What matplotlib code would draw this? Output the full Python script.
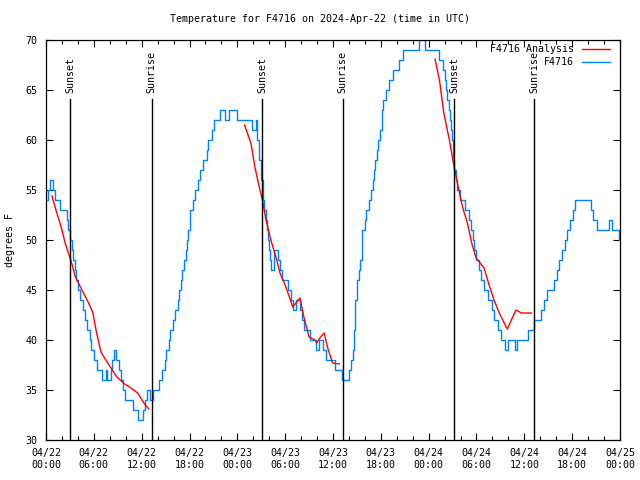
import matplotlib
matplotlib.use("Agg")
import matplotlib.pyplot as plt
from matplotlib.lines import Line2D
import matplotlib.transforms as mtransforms

# hours since 2024-04-22 00:00 UTC
obs_hours = [0.0, 0.3, 0.5, 0.85, 1.1, 1.8, 2.6, 2.8, 3.0, 3.2, 3.4, 3.6, 3.8, 4.0, 4.3, 4.6, 4.85, 5.2,
             5.55, 5.7, 6.0, 6.4, 7.0, 7.5, 7.6, 8.2, 8.3, 8.5, 8.75, 9.1, 9.4, 9.6, 9.9, 10.9, 11.5,
             12.15, 12.4, 12.7, 13.1, 13.4, 14.2, 14.5, 14.9, 15.1, 15.4, 15.6, 15.9, 16.2, 16.5, 16.7,
             16.9, 17.1, 17.3, 17.5, 17.7, 17.8, 18.0, 18.1, 18.5, 18.7, 19.1, 19.3, 19.7, 20.2, 20.3,
             20.8, 21.1, 21.8, 22.4, 22.9, 23.9, 25.8, 26.3, 26.5, 26.75, 26.95, 27.2, 27.4, 27.6, 27.75,
             27.85, 28.0, 28.1, 28.2, 28.55, 29.1, 29.3, 29.55, 30.3, 30.7, 30.95, 31.35, 31.9, 32.1, 32.4,
             33.15, 33.9, 34.2, 34.75, 35.1, 36.2, 37.1, 38.0, 38.25, 38.5, 38.6, 38.7, 38.8, 39.0, 39.2,
             39.4, 39.6, 39.7, 40.0, 40.2, 40.5, 40.8, 41.0, 41.1, 41.3, 41.5, 41.7, 41.9, 42.1, 42.2,
             42.3, 42.65, 43.05, 43.55, 44.3, 44.75, 46.8, 47.6, 49.3, 49.8, 50.05, 50.2, 50.35, 50.5,
             50.65, 50.8, 50.9, 51.05, 51.1, 51.2, 51.4, 51.6, 51.9, 52.5, 53.1, 53.3, 53.5, 53.7, 53.9,
             54.3, 54.6, 54.9, 55.4, 55.95, 56.25, 56.65, 57.1, 57.6, 57.9, 58.8, 59.05, 60.4, 61.25,
             62.1, 62.5, 62.9, 63.7, 64.1, 64.35, 64.7, 65.1, 65.3, 65.7, 66.1, 66.35, 68.4, 68.65,
             69.15, 70.6, 70.95, 71.9]
obs_temp = [54, 55, 56, 55, 54, 53, 52, 51, 50, 49, 48, 47, 46, 45, 44, 43, 42, 41,
            40, 39, 38, 37, 36, 37, 36, 37, 38, 39, 38, 37, 36, 35, 34, 33, 32,
            33, 34, 35, 34, 35, 36, 37, 38, 39, 40, 41, 42, 43, 44, 45,
            46, 47, 48, 49, 50, 51, 52, 53, 54, 55, 56, 57, 58, 59, 60,
            61, 62, 63, 62, 63, 62, 61, 62, 60, 58, 56, 54, 53, 52, 51,
            50, 49, 48, 47, 49, 48, 47, 46, 45, 44, 43, 44, 43, 42, 41,
            40, 39, 40, 39, 38, 37, 36, 37, 38, 39, 41, 42, 44, 46, 47,
            48, 50, 51, 52, 53, 54, 55, 56, 57, 58, 59, 60, 61, 62, 63,
            64, 65, 66, 67, 68, 69, 70, 69, 68, 67, 66, 65, 64, 63,
            62, 61, 60, 59, 58, 57, 56, 55, 54, 53, 52, 51, 50, 49, 48,
            47, 46, 45, 44, 43, 42, 41, 40, 39, 40, 39, 40, 41, 42,
            43, 44, 45, 46, 47, 48, 49, 50, 51, 52, 53, 54, 53, 52,
            51, 52, 51, 50]

ana1_hours = [0.75, 1.25, 1.9, 2.4, 3.1, 3.7, 4.2, 4.7, 5.35, 5.85, 6.35, 6.9, 7.5, 8.15, 8.9, 9.7,
              10.65, 11.5, 12.45, 12.9]
ana1_temp = [54.4, 53.0, 51.3, 49.7, 48.0, 46.3, 45.5, 44.7, 43.7, 42.8, 40.7, 38.8, 38.0, 37.2, 36.3,
             35.7, 35.2, 34.7, 33.5, 33.1]
ana2_hours = [24.9, 25.7, 26.2, 26.75, 27.15, 27.6, 28.2, 28.85, 29.35, 30.1, 30.95, 31.45, 31.85,
              32.35, 33.0, 33.75, 33.95, 34.35, 34.9, 35.3, 35.95, 36.8]
ana2_temp = [61.5, 59.7, 57.3, 55.3, 54.0, 52.0, 50.0, 48.3, 46.7, 45.3, 43.3, 43.8, 44.2, 42.3, 40.3,
             40.0, 39.7, 40.2, 40.7, 39.3, 37.7, 37.6]
ana3_hours = [48.8, 49.35, 49.9, 50.6, 51.1, 51.6, 52.25, 52.85, 53.4, 53.95, 54.95, 55.5, 56.2, 56.85,
              57.85, 58.95, 59.65, 60.9]
ana3_temp = [68.1, 66.0, 62.7, 60.0, 57.7, 55.7, 53.3, 51.7, 49.7, 48.2, 47.2, 45.7, 44.0, 42.7, 41.1,
             43.0, 42.7, 42.7]

sun_hours = [3.05, 13.25, 27.1, 37.2, 51.2, 61.25]
sun_labels = ["Sunset", "Sunrise", "Sunset", "Sunrise", "Sunset", "Sunrise"]

xtick_hours = list(range(0, 73, 6))
xtick_labels = ["04/22\n00:00", "04/22\n06:00", "04/22\n12:00", "04/22\n18:00",
                "04/23\n00:00", "04/23\n06:00", "04/23\n12:00", "04/23\n18:00",
                "04/24\n00:00", "04/24\n06:00", "04/24\n12:00", "04/24\n18:00",
                "04/25\n00:00"]
ytick_vals = [30, 35, 40, 45, 50, 55, 60, 65, 70]

plt.rcParams['font.family'] = ['DejaVu Sans Mono']
FS = 7.2
RED = "#ff0000"
BLUE = "#0080ff"

fig = plt.figure(figsize=(6.4, 4.8), dpi=100)
ax = fig.add_axes([46/640, 40/480, 574/640, 400/480])
ax.set_xlim(0, 72)
ax.set_ylim(30, 70)

ax.step(obs_hours, obs_temp, where='post', color=BLUE, lw=1.0)
ax.plot(ana1_hours, ana1_temp, color=RED, lw=1.0)
ax.plot(ana2_hours, ana2_temp, color=RED, lw=1.0)
ax.plot(ana3_hours, ana3_temp, color=RED, lw=1.0)

trans = mtransforms.blended_transform_factory(ax.transData, ax.transAxes)
for h, lab in zip(sun_hours, sun_labels):
    ax.axvline(h, ymin=0, ymax=0.853, color='black', lw=1.0)
    ax.text(h, 0.868, lab, transform=trans, rotation=90, ha='center', va='bottom', fontsize=FS)

ax.set_xticks(xtick_hours)
ax.set_xticklabels(xtick_labels, fontsize=FS)
ax.set_xticks(range(0, 73, 2), minor=True)
ax.set_yticks(ytick_vals)
ax.set_yticklabels([str(v) for v in ytick_vals], fontsize=FS)
ax.tick_params(which='major', direction='in', top=True, right=True, length=5, width=0.8, pad=6)
ax.tick_params(which='minor', direction='in', top=True, right=False, left=False, length=3, width=0.8)
ax.tick_params(axis='y', which='minor', length=0)
for s in ax.spines.values():
    s.set_linewidth(0.9)

ax.set_ylabel("degrees F", fontsize=FS, labelpad=8)
fig.text(0.5, 1 - 19/480, "Temperature for F4716 on 2024-Apr-22 (time in UTC)",
         ha='center', va='center', fontsize=FS)

# legend (gnuplot style, right-justified text)
ax.text(0.920, 0.9775, "F4716 Analysis", transform=ax.transAxes, ha='right', va='center', fontsize=FS)
ax.text(0.920, 0.944, "F4716", transform=ax.transAxes, ha='right', va='center', fontsize=FS)
ax.add_line(Line2D([0.934, 0.983], [0.9775, 0.9775], transform=ax.transAxes, color=RED, lw=1.0))
ax.add_line(Line2D([0.934, 0.983], [0.944, 0.944], transform=ax.transAxes, color=BLUE, lw=1.0))

fig.savefig("out.png", dpi=100)
